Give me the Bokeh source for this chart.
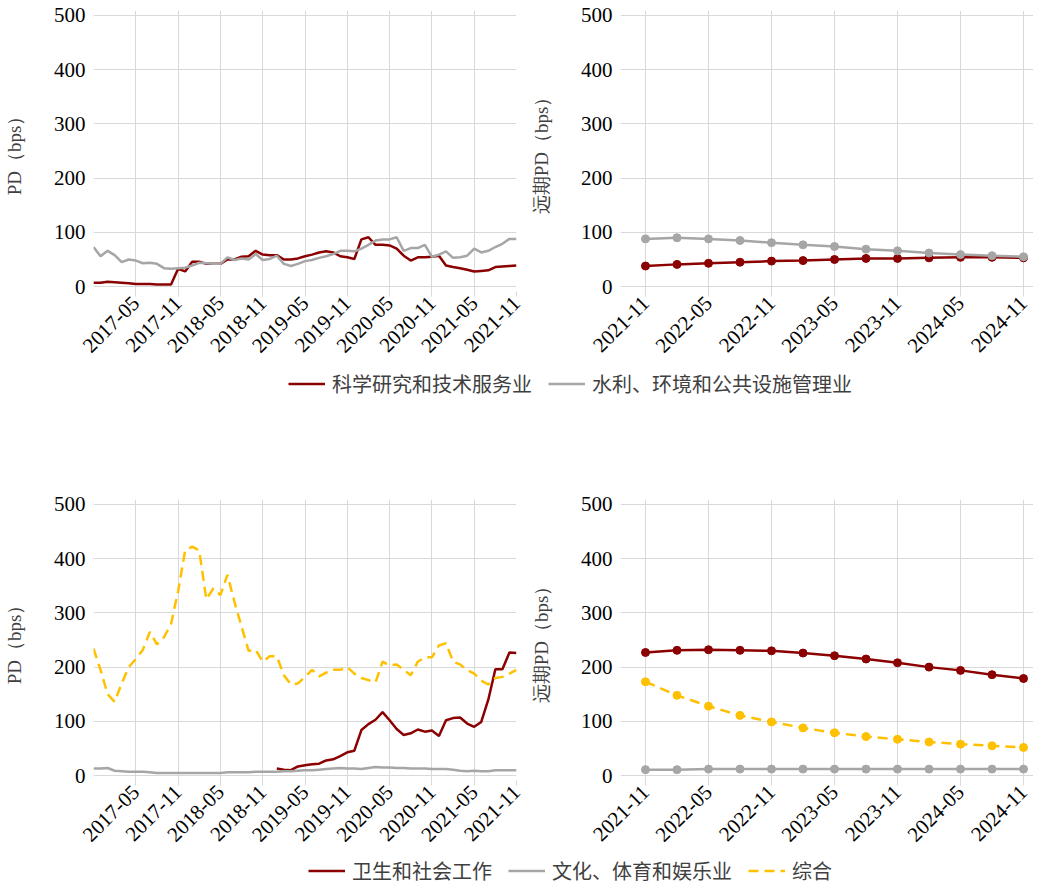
import math
import pandas as pd
from bokeh.plotting import figure
from bokeh.layouts import column, row
from bokeh.models import FixedTicker, Legend, LegendItem, Range1d
from bokeh.embed import file_html
from bokeh.resources import INLINE

# ---------------- data ----------------
hist_months = [str(p) for p in pd.period_range("2016-11", "2021-11", freq="M")]
hist_tick_labels = ["2017-05", "2017-11", "2018-05", "2018-11", "2019-05",
                    "2019-11", "2020-05", "2020-11", "2021-05", "2021-11"]
fwd_months = [str(p) for p in pd.period_range("2021-11", "2024-11", freq="3M")]
fwd_tick_labels = ["2021-11", "2022-05", "2022-11", "2023-05", "2023-11", "2024-05", "2024-11"]

sci_hist = [7, 7, 9, 8, 7, 6, 5, 5, 5, 4, 4, 4,
            33, 28, 46, 46, 42, 42, 42, 50, 50, 55, 56, 66,
            59, 58, 58, 50, 50, 52, 56, 59, 63, 65, 63, 56,
            54, 51, 87, 91, 77, 77, 76, 70, 57, 48, 54, 54,
            55, 57, 39, 36, 34, 31, 28, 29, 30, 36, 37, 38, 39]
water_hist = [73, 56, 66, 58, 45, 50, 48, 43, 44, 42, 34, 33,
              34, 35, 39, 44, 43, 42, 42, 54, 49, 52, 50, 60,
              49, 51, 57, 42, 38, 42, 47, 49, 53, 56, 60, 66,
              66, 65, 70, 77, 85, 87, 87, 91, 66, 71, 71, 77,
              55, 59, 65, 53, 54, 57, 70, 63, 66, 73, 79, 88, 88]
sci_fwd = [38, 41, 43, 45, 47, 48, 50, 52, 52, 53, 54, 54, 53]
water_fwd = [88, 90, 88, 85, 81, 77, 74, 69, 66, 62, 59, 57, 55]

nan = float("nan")
health_hist = [nan] * 26 + [13, 11, 10, 17, 19, 21, 22, 28, 30, 36, 43, 46, 84, 95, 103,
                            117, 102, 86, 75, 78, 85, 81, 83, 73, 102, 106, 107, 96, 90,
                            99, 140, 196, 196, 227, 226]
culture_hist = [13, 13, 14, 9, 8, 7, 7, 7, 6, 5, 5, 5,
                5, 5, 5, 5, 5, 5, 5, 6, 6, 6, 6, 7,
                7, 7, 7, 8, 8, 9, 10, 10, 11, 12, 13, 14,
                13, 13, 12, 14, 16, 15, 15, 14, 14, 13, 13, 13,
                12, 12, 12, 11, 9, 8, 9, 8, 8, 10, 10, 10, 10]
composite_hist = [234, 195, 150, 136, 170, 200, 215, 232, 265, 242, 255, 280,
                  340, 415, 422, 415, 325, 345, 333, 370, 320, 275, 230, 232,
                  210, 220, 220, 185, 168, 170, 182, 195, 183, 190, 195, 195,
                  200, 188, 180, 176, 172, 210, 203, 205, 195, 185, 210, 218,
                  218, 240, 244, 210, 205, 195, 188, 175, 168, 180, 182, 188, 195]
health_fwd = [227, 231, 232, 231, 230, 226, 221, 215, 208, 200, 194, 186, 179]
culture_fwd = [11, 11, 12, 12, 12, 12, 12, 12, 12, 12, 12, 12, 12]
composite_fwd = [173, 148, 128, 111, 99, 88, 79, 72, 67, 62, 58, 55, 52]

y_ticks = [0, 100, 200, 300, 400, 500]

# ---------------- styling ----------------
RED = "#8B0000"
GRAY = "#A6A6A6"
YELLOW = "#FFC000"
GRID = "#D9D9D9"
SERIF = "Liberation Serif"
CJK = "Noto Sans CJK SC"
LW = 2.5
DASH = "10 6"


def month_index(months, start):
    s = pd.Period(start, freq="M")
    return [(pd.Period(m, freq="M") - s).n for m in months]


hx = month_index(hist_months, "2016-11")
fx = month_index(fwd_months, "2021-11")
h_ticks = month_index(hist_tick_labels, "2016-11")
f_ticks = month_index(fwd_tick_labels, "2021-11")


def make_panel(xr, ticks, labels, ylabel, width, height, bl, br, bt, bb):
    p = figure(width=width, height=height, x_range=xr, y_range=Range1d(-9, 509),
               output_backend="svg", toolbar_location=None,
               min_border_left=bl, min_border_right=br,
               min_border_top=bt, min_border_bottom=bb)
    p.outline_line_color = None
    p.background_fill_color = "white"
    p.xgrid.ticker = FixedTicker(ticks=ticks)
    p.ygrid.ticker = FixedTicker(ticks=y_ticks)
    p.grid.grid_line_color = GRID
    p.grid.grid_line_width = 1
    xa = p.xaxis[0]
    xa.ticker = FixedTicker(ticks=ticks)
    xa.major_label_overrides = {t: l for t, l in zip(ticks, labels)}
    xa.major_label_orientation = math.pi / 4
    xa.axis_line_color = None
    xa.major_tick_line_color = GRID
    xa.major_tick_out = 5
    xa.major_tick_in = 0
    xa.minor_tick_line_color = None
    xa.major_label_text_font = SERIF
    xa.major_label_text_font_size = "21px"
    xa.major_label_text_color = "black"
    xa.major_label_standoff = 3
    ya = p.yaxis[0]
    ya.ticker = FixedTicker(ticks=y_ticks)
    ya.axis_line_color = None
    ya.major_tick_line_color = None
    ya.minor_tick_line_color = None
    ya.major_label_text_font = SERIF
    ya.major_label_text_font_size = "21px"
    ya.major_label_text_color = "black"
    ya.major_label_standoff = 2
    ya.axis_label = ylabel
    ya.axis_label_text_font = SERIF
    ya.axis_label_text_font_style = "normal"
    ya.axis_label_text_font_size = "19px"
    ya.axis_label_text_color = "#404040"
    ya.axis_label_standoff = 26
    return p


def legend_fig(entries, height):
    f = figure(width=1033, height=height, x_range=(0, 1), y_range=(0, 1),
               output_backend="svg", toolbar_location=None,
               x_axis_location=None, y_axis_location=None,
               min_border_left=107, min_border_right=0, min_border_top=0, min_border_bottom=0)
    f.grid.visible = False
    f.outline_line_color = None
    items = []
    for label, color, dash in entries:
        # drawn outside the visible range: only the legend swatch shows
        r = f.line(x=[-5, -4], y=[-5, -5], line_color=color, line_width=LW, line_dash=dash)
        items.append(LegendItem(label=label, renderers=[r]))
    leg = Legend(items=items, location="center", orientation="horizontal",
                 border_line_color=None, background_fill_alpha=0,
                 label_text_font=CJK, label_text_font_size="20px",
                 label_text_color="#404040", glyph_width=37, glyph_height=20,
                 label_standoff=7, spacing=16, padding=0, margin=0)
    f.add_layout(leg)
    return f


# ---------------- top row ----------------
TOP_H = 366
p1 = make_panel(Range1d(0, 60), h_ticks, hist_tick_labels, "PD（bps）",
                526, TOP_H, 90, 10, 10, 75)
p1.line(hx, sci_hist, line_color=RED, line_width=LW)
p1.line(hx, water_hist, line_color=GRAY, line_width=LW)

p2 = make_panel(Range1d(-2.38, 36.95), f_ticks, fwd_tick_labels, "远期PD（bps）",
                507, TOP_H, 94, 0, 10, 75)
p2.line(fx, sci_fwd, line_color=RED, line_width=LW)
p2.scatter(fx, sci_fwd, size=8, color=RED)
p2.line(fx, water_fwd, line_color=GRAY, line_width=LW)
p2.scatter(fx, water_fwd, size=8, color=GRAY)

leg1 = legend_fig([("科学研究和技术服务业", RED, "solid"),
                   ("水利、环境和公共设施管理业", GRAY, "solid")], 34)

# ---------------- bottom row ----------------
BOT_H = 455
p3 = make_panel(Range1d(0, 60), h_ticks, hist_tick_labels, "PD（bps）",
                526, BOT_H, 90, 10, 99, 75)
p3.line(hx, health_hist, line_color=RED, line_width=LW)
p3.line(hx, culture_hist, line_color=GRAY, line_width=LW)
p3.line(hx, composite_hist, line_color=YELLOW, line_width=LW, line_dash=DASH)

p4 = make_panel(Range1d(-2.38, 36.95), f_ticks, fwd_tick_labels, "远期PD（bps）",
                507, BOT_H, 94, 0, 99, 75)
p4.line(fx, health_fwd, line_color=RED, line_width=LW)
p4.scatter(fx, health_fwd, size=8, color=RED)
p4.line(fx, culture_fwd, line_color=GRAY, line_width=LW)
p4.scatter(fx, culture_fwd, size=8, color=GRAY)
p4.line(fx, composite_fwd, line_color=YELLOW, line_width=LW, line_dash=DASH)
p4.scatter(fx, composite_fwd, size=8, color=YELLOW)

leg2 = legend_fig([("卫生和社会工作", RED, "solid"),
                   ("文化、体育和娱乐业", GRAY, "solid"),
                   ("综合", YELLOW, DASH)], 30)

layout = column(row(p1, p2), leg1, row(p3, p4), leg2)

open("out.html", "w").write(file_html(layout, INLINE))
